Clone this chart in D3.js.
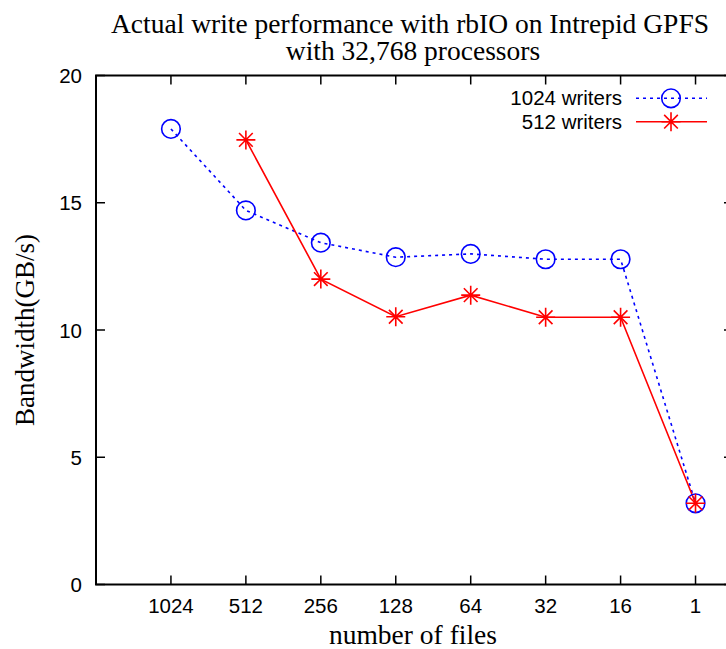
<!DOCTYPE html>
<html><head><meta charset="utf-8">
<script src="https://cdn.jsdelivr.net/npm/d3@7"></script>
<style>body{margin:0;background:#fff}</style>
</head><body>
<script>
const categories = ["1024","512","256","128","64","32","16","1"];
const writers1024 = [17.9, 14.7, 13.43, 12.86, 12.99, 12.78, 12.78, 3.19];
const writers512 = [null, 17.47, 12.0, 10.52, 11.37, 10.5, 10.5, 3.19];
const yTicks = [0,5,10,15,20];
const seriesNames = ["1024 writers","512 writers"];

const W=726,H=649;
const svg=d3.select("body").append("svg").attr("width",W).attr("height",H);
const pLeft=96, pRight=733, pTop=75.5, pBottom=584.5;
const x=d3.scaleLinear().domain([-1,7.5]).range([pLeft,pRight]);
const y=d3.scaleLinear().domain([0,20]).range([pBottom,pTop]);
const serif="'Liberation Serif','Times New Roman',serif";
const sans="'Liberation Sans',Arial,sans-serif";
const serifSize=27.5, sansSize=20.5;

svg.append("rect").attr("x",pLeft).attr("y",pTop).attr("width",pRight-pLeft).attr("height",pBottom-pTop)
  .attr("fill","none").attr("stroke","#000").attr("stroke-width",2);
const tl=9;
yTicks.forEach(v=>{
  svg.append("line").attr("x1",pLeft).attr("x2",pLeft+tl).attr("y1",y(v)).attr("y2",y(v)).attr("stroke","#000").attr("stroke-width",1.5);
  svg.append("line").attr("x1",pRight).attr("x2",pRight-tl).attr("y1",y(v)).attr("y2",y(v)).attr("stroke","#000").attr("stroke-width",1.5);
  svg.append("text").attr("x",82).attr("y",y(v)+7.5).attr("text-anchor","end")
    .attr("font-family",sans).attr("font-size",sansSize).text(v);
});
categories.forEach((c,i)=>{
  svg.append("line").attr("x1",x(i)).attr("x2",x(i)).attr("y1",pBottom).attr("y2",pBottom-tl).attr("stroke","#000").attr("stroke-width",1.5);
  svg.append("line").attr("x1",x(i)).attr("x2",x(i)).attr("y1",pTop).attr("y2",pTop+tl).attr("stroke","#000").attr("stroke-width",1.5);
  svg.append("text").attr("x",x(i)).attr("y",613).attr("text-anchor","middle")
    .attr("font-family",sans).attr("font-size",sansSize).text(c);
});

svg.append("text").attr("x",410).attr("y",33).attr("text-anchor","middle").attr("font-family",serif).attr("font-size",serifSize)
  .text("Actual write performance with rbIO on Intrepid GPFS");
svg.append("text").attr("x",413).attr("y",60).attr("text-anchor","middle").attr("font-family",serif).attr("font-size",serifSize)
  .text("with 32,768 processors");
svg.append("text").attr("x",413).attr("y",644).attr("text-anchor","middle").attr("font-family",serif).attr("font-size",serifSize)
  .text("number of files");
svg.append("text").attr("transform","translate(34,330) rotate(-90)").attr("text-anchor","middle").attr("font-family",serif).attr("font-size",27)
  .text("Bandwidth(GB/s)");

const line=d3.line().x((d,i)=>x(i)).y(d=>y(d));
const g=svg.append("g");
g.append("path").attr("d",line(writers1024)).attr("fill","none").attr("stroke","#0000ff").attr("stroke-width",1.6).attr("stroke-dasharray","3,4");
const l512=d3.line().x(d=>x(d.i)).y(d=>y(d.v));
const pts512=writers512.map((v,i)=>({v,i})).filter(d=>d.v!=null);
g.append("path").attr("d",l512(pts512)).attr("fill","none").attr("stroke","#ff0000").attr("stroke-width",1.6);

function circle(cx,cy){
  svg.append("circle").attr("cx",cx).attr("cy",cy).attr("r",9.3).attr("fill","none").attr("stroke","#0000ff").attr("stroke-width",1.6);
}
function star(cx,cy){
  const r=9.5, d=r*0.72;
  const p=`M${cx-r},${cy}L${cx+r},${cy}M${cx},${cy-r}L${cx},${cy+r}M${cx-d},${cy-d}L${cx+d},${cy+d}M${cx-d},${cy+d}L${cx+d},${cy-d}`;
  svg.append("path").attr("d",p).attr("stroke","#ff0000").attr("stroke-width",1.6).attr("fill","none");
}
writers1024.forEach((v,i)=>circle(x(i),y(v)));
pts512.forEach(d=>star(x(d.i),y(d.v)));

const legY=[98.3,121.7];
seriesNames.forEach((n,k)=>{
  svg.append("text").attr("x",622).attr("y",legY[k]+7).attr("text-anchor","end").attr("font-family",sans).attr("font-size",sansSize).text(n);
  const ln=svg.append("line").attr("x1",636).attr("x2",707).attr("y1",legY[k]).attr("y2",legY[k]).attr("stroke-width",1.6);
  if(k===0){ ln.attr("stroke","#0000ff").attr("stroke-dasharray","3,4"); circle(671,legY[k]); }
  else { ln.attr("stroke","#ff0000"); star(671,legY[k]); }
});
</script>
</body></html>
